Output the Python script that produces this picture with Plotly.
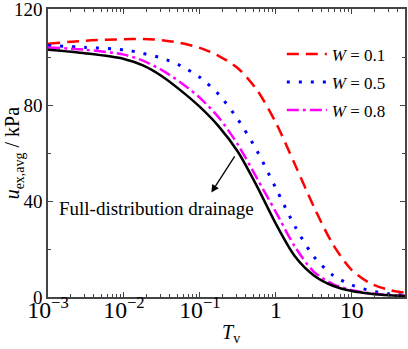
import plotly.graph_objects as go

log_tv = [-3, -2.5, -2, -1.75, -1.5, -1.25, -1, -0.75, -0.5, -0.25, 0, 0.25, 0.5, 0.75, 1, 1.25, 1.5, 1.7]
tv = [10 ** v for v in log_tv]

u_w01 = [105.5, 106.8, 107.4, 107.5, 107.0, 105.8, 103.8, 100.4, 95.3, 86.3, 72.6, 55.3, 37.6, 22.0, 11.2, 5.6, 2.9, 1.8]
u_w05 = [104.8, 104.0, 103.0, 101.5, 99.5, 96.3, 91.5, 84.3, 74.0, 61.0, 45.3, 29.5, 16.8, 9.1, 5.0, 2.6, 1.3, 0.7]
u_w08 = [104.0, 103.0, 101.0, 98.5, 94.5, 89.3, 83.0, 74.7, 63.5, 49.5, 35.4, 21.0, 10.5, 5.4, 2.8, 1.5, 0.8, 0.5]
u_full = [103.0, 101.5, 99.2, 96.5, 92.0, 86.0, 79.2, 71.0, 60.5, 46.2, 30.5, 17.0, 9.0, 4.7, 2.5, 1.35, 0.7, 0.4]

FONT = "Liberation Serif, Times New Roman, serif"

fig = go.Figure()
series = [
    ("<i>W</i> = 0.1", u_w01, "#ff0000", "12px,7px", 2.5, True),
    ("<i>W</i> = 0.5", u_w05, "#0000ff", "3px,9px", 3, True),
    ("<i>W</i> = 0.8", u_w08, "#ff00ff", "12px,4px,3px,4px", 2.5, True),
    ("Full-distribution drainage", u_full, "#000000", "solid", 2.5, False),
]
for i, (name, y, color, dash, w, show) in enumerate(series):
    fig.add_trace(go.Scatter(x=tv, y=y, mode="lines", name=name, showlegend=show,
                             legendgroup="g%d" % i,
                             line=dict(color=color, dash=dash, width=w, shape="spline", smoothing=0.8)))

axis_common = dict(
    showgrid=False, zeroline=False, showline=True, linecolor="#444", linewidth=1.5,
    mirror="ticks", ticks="inside", ticklen=5, tickwidth=1.2, tickcolor="#444",
    tickfont=dict(family=FONT, size=19, color="black"), automargin=False,
    ticklabeloverflow="allow",
)
fig.update_xaxes(type="log", range=[-3, 1.7], dtick=1, exponentformat="power",
                 ticklabelstandoff=-8,
                 minor=dict(ticks="inside", ticklen=3, tickcolor="#444", showgrid=False),
                 **axis_common)
fig.update_yaxes(range=[0, 120], dtick=40, ticklabelstandoff=0,
                 minor=dict(ticks="inside", ticklen=3, tickcolor="#444", dtick=20, showgrid=False),
                 **axis_common)

# axis titles
fig.add_annotation(x=0.513, y=-0.125, xref="paper", yref="paper", text="<i>T</i><sub>v</sub>",
                   showarrow=False, xanchor="center", yanchor="middle",
                   font=dict(family=FONT, size=20, color="black"))
fig.add_annotation(x=-0.097, y=0.5, xref="paper", yref="paper", text="<i>u</i><sub>ex,avg</sub> / kPa",
                   showarrow=False, xanchor="center", yanchor="middle", textangle=-90,
                   font=dict(family=FONT, size=20, color="black"))

fig.add_annotation(x=-2.88, y=37, xref="x", yref="y", text="Full-distribution drainage",
                   showarrow=False, xanchor="left", yanchor="middle",
                   font=dict(family=FONT, size=19, color="black"))
fig.add_annotation(x=-0.85, y=43.5, ax=-0.53, ay=59.2, xref="x", yref="y", axref="x", ayref="y",
                   text="", showarrow=True, arrowhead=2, arrowsize=1.2, arrowwidth=1.3, arrowcolor="black")

fig.update_layout(
    width=408, height=349,
    margin=dict(l=48, r=3, t=9, b=52),
    plot_bgcolor="white", paper_bgcolor="white",
    legend=dict(x=0.655, y=0.905, xanchor="left", yanchor="top", bgcolor="rgba(0,0,0,0)",
                font=dict(family=FONT, size=17, color="black"), tracegroupgap=3,
                itemwidth=40),
    font=dict(family=FONT),
)
fig.write_html("out.html", config={"displayModeBar": False},
               post_script="document.body.style.margin='0px';")
